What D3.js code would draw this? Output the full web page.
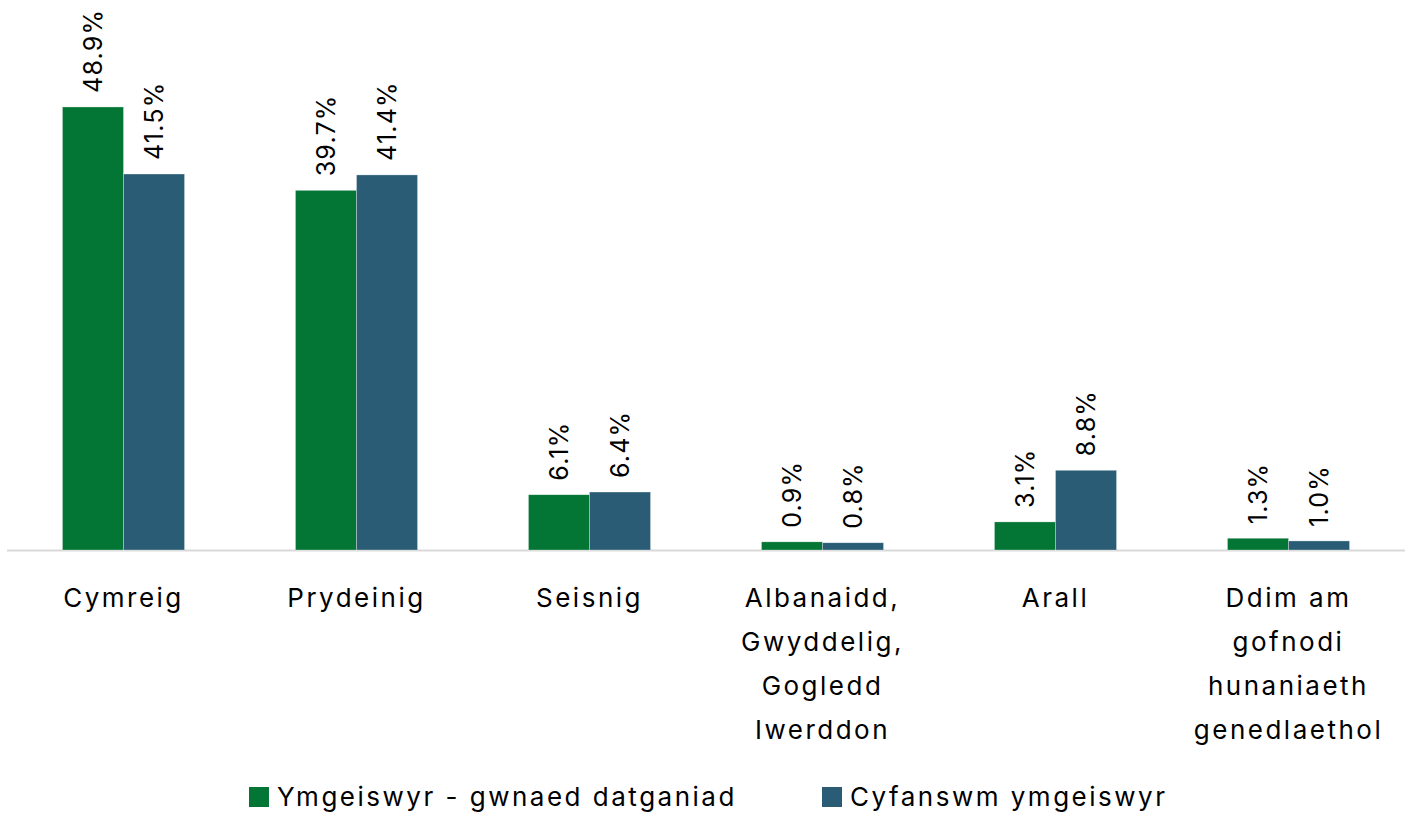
<!DOCTYPE html>
<meta charset="utf-8">
<style>
body { margin: 0; background: #fff; }
text { font-family: "Inter", "Noto Sans", sans-serif; fill: #000; }
</style>
<body>
<svg id="chart"></svg>
<script src="https://cdn.jsdelivr.net/npm/d3@7"></script>
<script>

// data
var categories = ["Cymreig", "Prydeinig", "Seisnig", "Albanaidd, Gwyddelig, Gogledd Iwerddon", "Arall", "Ddim am gofnodi hunaniaeth genedlaethol"];
var categoryLines = [["Cymreig"], ["Prydeinig"], ["Seisnig"], ["Albanaidd,", "Gwyddelig,", "Gogledd", "Iwerddon"], ["Arall"], ["Ddim am", "gofnodi", "hunaniaeth", "genedlaethol"]];
var seriesNames = ["Ymgeiswyr - gwnaed datganiad", "Cyfanswm ymgeiswyr"];
var declared = [48.9, 39.7, 6.1, 0.9, 3.1, 1.3];
var total = [41.5, 41.4, 6.4, 0.8, 8.8, 1.0];
var colors = ["#037636", "#2a5d75"];

var width = 1408, height = 816;
var svg = d3.select("#chart").attr("width", width).attr("height", height);

var baseY = 550;

var x0 = d3.scaleBand()
    .domain(categories)
    .range([7, 1405])
    .paddingInner(0.476)
    .paddingOuter(0.238);

var x1 = d3.scaleBand()
    .domain([0, 1])
    .range([0, x0.bandwidth()]);

var y = d3.scaleLinear()
    .domain([0, 50])
    .range([baseY, baseY - 453]);

var rows = categories.map(function(c, i) {
  return { cat: c, values: [declared[i], total[i]] };
});

// axis line
svg.append("line")
    .attr("x1", 7).attr("x2", 1405)
    .attr("y1", baseY + 0.5).attr("y2", baseY + 0.5)
    .attr("stroke", "#d9d9d9")
    .attr("stroke-width", 2);

var groups = svg.selectAll(".grp")
    .data(rows)
  .enter().append("g")
    .attr("class", "grp")
    .attr("transform", function(d) { return "translate(" + x0(d.cat) + ",0)"; });

groups.selectAll("rect")
    .data(function(d) { return d.values.map(function(v, j) { return { v: v, j: j }; }); })
  .enter().append("rect")
    .attr("x", function(d) { return x1(d.j); })
    .attr("width", x1.bandwidth())
    .attr("y", function(d) { return y(d.v); })
    .attr("height", function(d) { return baseY - y(d.v); })
    .attr("fill", function(d) { return colors[d.j]; })
    .attr("stroke", "#ffffff")
    .attr("stroke-opacity", 0.5)
    .attr("stroke-width", 0.6);

// value labels, rotated
groups.selectAll(".val")
    .data(function(d) { return d.values.map(function(v, j) { return { v: v, j: j }; }); })
  .enter().append("text")
    .attr("class", "val")
    .attr("transform", function(d) {
      var cx = x1(d.j) + x1.bandwidth() / 2 + 9;
      return "translate(" + cx + "," + (y(d.v) - 14) + ") rotate(-90)";
    })
    .attr("text-anchor", "start")
    .style("font-size", "25px")
    .style("letter-spacing", "1.2px")
    .text(function(d) { return d.v.toFixed(1) + "%"; });

// category labels
var catLabels = svg.selectAll(".cat")
    .data(rows)
  .enter().append("text")
    .attr("class", "cat")
    .attr("text-anchor", "middle")
    .style("font-size", "26px")
    .style("letter-spacing", "2.5px")
    .attr("x", function(d) { return x0(d.cat) + x0.bandwidth() / 2; })
    .attr("y", 607);

catLabels.selectAll("tspan")
    .data(function(d, i) { return categoryLines[i]; })
  .enter().append("tspan")
    .attr("x", function() { return d3.select(this.parentNode).attr("x"); })
    .attr("dy", function(d, i) { return i === 0 ? 0 : 44; })
    .text(function(d) { return d; });

// legend
var legendX = [249, 822];
var legend = svg.selectAll(".legend")
    .data(seriesNames)
  .enter().append("g")
    .attr("class", "legend")
    .attr("transform", function(d, i) { return "translate(" + legendX[i] + ",787)"; });

legend.append("rect")
    .attr("width", 20)
    .attr("height", 20)
    .attr("fill", function(d, i) { return colors[i]; });

legend.append("text")
    .attr("x", 28)
    .attr("y", 19)
    .style("font-size", "26px")
    .style("letter-spacing", "2.5px")
    .text(function(d) { return d; });

</script>
</body>
